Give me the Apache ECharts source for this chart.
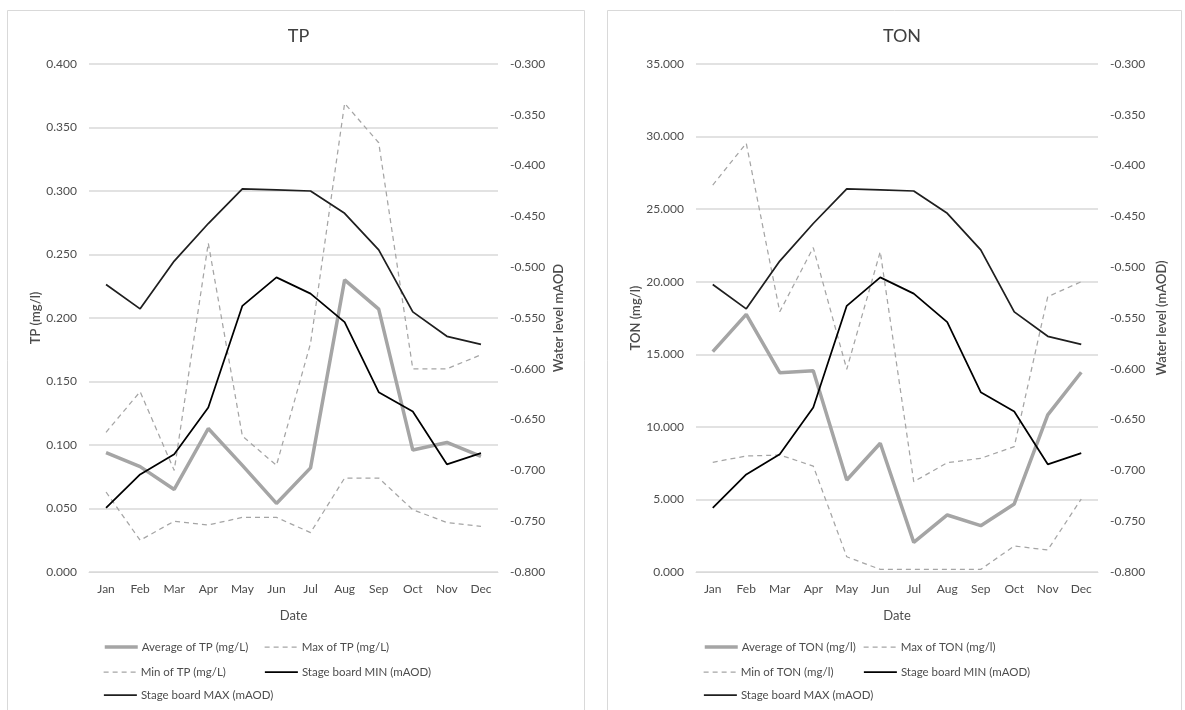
<!DOCTYPE html>
<html>
<head>
<meta charset="utf-8">
<title>TP and TON with stage board levels</title>
<script src="https://cdn.jsdelivr.net/npm/echarts@6/dist/echarts.min.js"></script>
<style>
  html, body { margin: 0; padding: 0; background: #ffffff; }
  #chart { width: 1185px; height: 710px; }
</style>
</head>
<body>
<div id="chart"></div>
<script>
// Monthly categories
const months = ['Jan', 'Feb', 'Mar', 'Apr', 'May', 'Jun', 'Jul', 'Aug', 'Sep', 'Oct', 'Nov', 'Dec'];

// Total phosphorus (mg/l)
const tpAvg = [0.094, 0.083, 0.065, 0.113, 0.084, 0.054, 0.082, 0.230, 0.207, 0.096, 0.102, 0.091];
const tpMax = [0.110, 0.142, 0.080, 0.259, 0.107, 0.084, 0.180, 0.369, 0.338, 0.160, 0.160, 0.171];
const tpMin = [0.063, 0.025, 0.040, 0.037, 0.043, 0.043, 0.031, 0.074, 0.074, 0.049, 0.039, 0.036];

// Total oxidised nitrogen (mg/l)
const tonAvg = [15.18, 17.75, 13.73, 13.87, 6.34, 8.87, 2.04, 3.93, 3.19, 4.69, 10.82, 13.76];
const tonMax = [26.66, 29.54, 17.93, 22.35, 13.97, 22.07, 6.22, 7.53, 7.83, 8.64, 18.97, 20.00];
const tonMin = [7.56, 7.99, 8.06, 7.30, 1.05, 0.18, 0.18, 0.18, 0.18, 1.79, 1.52, 5.03];

// Stage board water level (mAOD)
const stageMin = [-0.737, -0.704, -0.684, -0.638, -0.538, -0.510, -0.526, -0.554, -0.623, -0.642, -0.694, -0.683];
const stageMax = [-0.517, -0.541, -0.494, -0.457, -0.423, -0.424, -0.425, -0.447, -0.483, -0.544, -0.568, -0.576];

// Axis tick ranges: [min, max, interval]
const tpTicks = [0, 0.4, 0.05];
const tonTicks = [0, 35, 5];
const levelTicks = [-0.8, -0.3, 0.05];

const FONT = 'Lato, "Liberation Sans", sans-serif';
const TXT = '#4d4d4d';
const GRIDC = '#d9d9d9';
const GREY = '#a5a5a5';

function fmt3(v) { return (Math.round(v * 1000) / 1000).toFixed(3); }

// Line styles per series slot: average, max, min, stage min, stage max
const styles = [
  { color: GREY, width: 3.5, type: 'solid' },
  { color: GREY, width: 1.25, type: [5, 4] },
  { color: GREY, width: 1.25, type: [5, 4] },
  { color: '#000000', width: 1.75, type: 'solid' },
  { color: '#1f1f1f', width: 1.75, type: 'solid' }
];

const panels = [
  {
    title: 'TP', gridLeft: 89, gridWidth: 409, ticks: tpTicks,
    leftName: 'TP (mg/l)', leftGap: 46, rightName: 'Water level mAOD', rightGap: 54,
    names: ['Average of TP (mg/L)', 'Max of TP (mg/L)', 'Min of TP (mg/L)', 'Stage board MIN (mAOD)', 'Stage board MAX (mAOD)'],
    values: [tpAvg, tpMax, tpMin, stageMin, stageMax], legendX: [103, 264]
  },
  {
    title: 'TON', gridLeft: 696, gridWidth: 402, ticks: tonTicks,
    leftName: 'TON (mg/l)', leftGap: 53, rightName: 'Water level (mAOD)', rightGap: 57,
    names: ['Average of TON (mg/l)', 'Max of TON (mg/l)', 'Min of TON (mg/l)', 'Stage board MIN (mAOD)', 'Stage board MAX (mAOD)'],
    values: [tonAvg, tonMax, tonMin, stageMin, stageMax], legendX: [703, 863]
  }
];

const option = {
  backgroundColor: '#ffffff',
  animation: false,
  textStyle: { fontFamily: FONT },
  title: [], grid: [], xAxis: [], yAxis: [], series: [], legend: [],
  graphic: [
    { type: 'rect', shape: { x: 7.5, y: 10.5, width: 577, height: 720 }, style: { fill: 'none', stroke: GRIDC, lineWidth: 1 } },
    { type: 'rect', shape: { x: 607.5, y: 10.5, width: 574, height: 720 }, style: { fill: 'none', stroke: GRIDC, lineWidth: 1 } }
  ]
};

panels.forEach((p, i) => {
  option.title.push({
    text: p.title, left: p.gridLeft + p.gridWidth / 2, top: 22, textAlign: 'center',
    textStyle: { fontFamily: FONT, fontSize: 18, fontWeight: 'normal', color: '#404040' }
  });
  option.grid.push({ left: p.gridLeft, width: p.gridWidth, top: 64, height: 508 });
  option.xAxis.push({
    type: 'category', gridIndex: i, data: months, boundaryGap: true,
    name: 'Date', nameLocation: 'middle', nameGap: 37,
    nameTextStyle: { fontFamily: FONT, fontSize: 13, color: TXT },
    axisLine: { lineStyle: { color: GRIDC, width: 1 } },
    axisTick: { show: false },
    axisLabel: { color: TXT, fontSize: 12, fontFamily: FONT, margin: 11, interval: 0 }
  });
  option.yAxis.push({
    type: 'value', gridIndex: i, min: p.ticks[0], max: p.ticks[1], interval: p.ticks[2],
    name: p.leftName, nameLocation: 'middle', nameGap: p.leftGap,
    nameTextStyle: { fontFamily: FONT, fontSize: 13, fontWeight: 600, color: TXT },
    axisLine: { show: false }, axisTick: { show: false },
    axisLabel: { color: TXT, fontSize: 12, fontFamily: FONT, margin: 12, formatter: fmt3 },
    splitLine: { lineStyle: { color: GRIDC, width: 1.5 } }
  });
  option.yAxis.push({
    type: 'value', gridIndex: i, position: 'right', min: levelTicks[0], max: levelTicks[1], interval: levelTicks[2],
    name: p.rightName, nameLocation: 'middle', nameGap: p.rightGap,
    nameTextStyle: { fontFamily: FONT, fontSize: 13, fontWeight: 600, color: TXT },
    axisLine: { show: false }, axisTick: { show: false },
    axisLabel: { color: TXT, fontSize: 12, fontFamily: FONT, margin: 12, formatter: fmt3 },
    splitLine: { show: false }
  });

  // Concentration series on the left axis, stage board levels on the right axis
  p.names.forEach((n, k) => {
    const st = styles[k];
    option.series.push({
      type: 'line', name: n, xAxisIndex: i, yAxisIndex: k < 3 ? i * 2 : i * 2 + 1,
      data: p.values[k], symbol: 'none', silent: true,
      lineStyle: { color: st.color, width: st.width, type: st.type },
      itemStyle: { color: st.color }
    });
  });

  // Legend laid out in two columns, three rows; line swatches only
  const slots = [[0, 648], [1, 648], [0, 673], [1, 673], [0, 696]];
  p.names.forEach((n, k) => {
    const s = slots[k];
    const st = styles[k];
    option.legend.push({
      data: [n], left: p.legendX[s[0]], top: s[1] - 7, padding: 0,
      itemWidth: 33, itemHeight: 14, itemGap: 4, selectedMode: false,
      itemStyle: { opacity: 0, borderWidth: 0 },
      lineStyle: { width: st.width, type: st.type, color: st.color },
      textStyle: { color: TXT, fontSize: 11.5, fontFamily: FONT, padding: [0, 0, 0, -1] }
    });
  });
});

const chart = echarts.init(document.getElementById('chart'), null, { renderer: 'canvas' });
chart.setOption(option);
</script>
</body>
</html>
